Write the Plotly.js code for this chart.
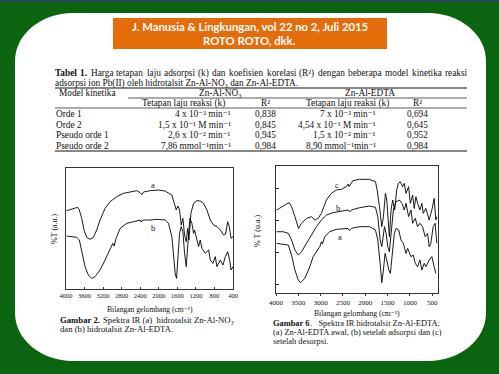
<!DOCTYPE html>
<html><head><meta charset="utf-8">
<script src="https://cdn.plot.ly/plotly-3.0.1.min.js"></script>
<style>html,body{margin:0;padding:0;background:#0a6410;}#plot{width:499px;height:374px;}</style>
</head><body><div id="plot"></div>
<script>
// ---------- DATA ----------
const headerTitle1 = "J. Manusia & Lingkungan, vol 22 no 2, Juli 2015";
const headerTitle2 = "ROTO ROTO, dkk.";

const captionBold = ["Tabel", "1."];
const captionWords = ["Harga", "tetapan", "laju", "adsorpsi", "(k)", "dan", "koefisien", "korelasi", "(R²)", "dengan", "beberapa", "model", "kinetika", "reaksi"];
const captionLine2 = "adsorpsi ion Pb(II) oleh hidrotalsit Zn-Al-NO₃ dan Zn-Al-EDTA.";

const models = ["Orde 1", "Orde 2", "Pseudo orde 1", "Pseudo orde 2"];
const kNO3 = ["4 x 10⁻³ min⁻¹", "1,5 x 10⁻¹ M min⁻¹", "2,6 x 10⁻² min⁻¹", "7,86 mmol⁻¹min⁻¹"];
const r2NO3 = ["0,838", "0,845", "0,945", "0,984"];
const kEDTA = ["7 x 10⁻³ min⁻¹", "4,54 x 10⁻¹ M min⁻¹", "1,5 x 10⁻² min⁻¹", "8,90 mmol⁻¹min⁻¹"];
const r2EDTA = ["0,694", "0,645", "0,952", "0,984"];

// Gambar 2 spectra (wavenumber cm-1, %T a.u.)
const g2_wn_a = [3986,3878,3784,3748,3712,3662,3611,3554,3482,3410,3338,3266,3158,3050,2906,2762,2618,2474,2402,2366,2330,2186,2006,1862,1718,1667,1624,1588,1552,1516,1480,1444,1408,1379,1350,1307,1250,1178,1106,1034,962,890,818,746,674,602,558,515,479,443,400];
const g2_t_a  = [62,63,64.2,64.5,62.5,56.2,47.5,42,40.5,42,47.5,55,63.7,68.7,72.5,75,76,77,75.5,74,76,77,77.5,76.7,73.7,67.5,62.5,65.5,62.5,51.2,56.2,43.7,38.7,48.7,40,60,67.5,69.5,69.2,67.5,62.5,55,51.2,50,47.5,43.7,44.5,53.7,50,41.2,42.5];
const g2_wn_b = [3986,3842,3770,3712,3662,3590,3518,3446,3374,3266,3158,3050,3014,2992,2963,2920,2834,2690,2546,2402,2380,2344,2186,2042,1862,1790,1718,1682,1646,1617,1588,1552,1516,1480,1444,1408,1372,1329,1286,1250,1228,1192,1142,1106,1070,998,926,890,832,782,746,674,616,566,515,472,443,400];
const g2_t_b  = [43,42.5,42,40,32.5,20,13.7,11.2,12.5,17.5,25,32.5,36.2,37.5,35.5,41.2,48.7,52.5,53.7,55,53.5,55,55,55.5,55,52.5,42.5,27.5,15,11.2,25,45,50,46.2,30,20,37.5,56.2,52.5,45,47.5,41.2,35,40,33.7,30,32.5,25,22.5,27.5,20,25,21.2,27.5,31.2,25,17.5,20];

// Gambar 6 spectra
const g6_wn_c = [3985,3874,3762,3703,3651,3576,3495,3428,3316,3205,3131,3056,2982,2871,2759,2648,2536,2425,2380,2365,2276,2128,1905,1771,1734,1682,1630,1593,1548,1518,1489,1459,1422,1385,1340,1296,1258,1214,1162,1125,1087,1028,991,939,902,865,827,775,731,701,642,567,508,456,419,396];
const g6_t_c  = [62.5,65,67,68,65,57.5,48.7,52.5,56.2,57.5,55,56.2,60,70,75,77.5,78,80,82,80,84.5,85.5,85.5,83.7,77.5,65,50,57.5,75,70,55,42.5,62.5,70,62.5,77.5,82.5,83.7,80,82.5,75,80,67.5,73.7,63.7,72.5,67.5,62.5,67.5,60,63.7,55,62.5,71.2,55,57.5];
const g6_wn_b = [3985,3837,3725,3651,3576,3502,3428,3316,3205,3094,2982,2871,2722,2573,2388,2350,2313,2128,1905,1771,1719,1667,1630,1608,1570,1533,1496,1459,1422,1370,1310,1236,1177,1125,1087,1028,976,939,879,827,775,716,657,604,567,530,478,434,396];
const g6_t_b  = [46.2,46.2,45,40,32.5,28.7,31.2,37.5,43.7,50,55,58.7,60.5,61.2,62.5,61,62.5,64.2,65.5,64.5,57.5,40,35,40,50,45,35,31.2,45,62.5,68.7,70,67.5,62.5,67.5,57.5,62.5,52.5,56.2,50,52.5,50,42.5,45,35,37.5,50,52.5,37.5];
const g6_wn_a = [3985,3837,3725,3651,3576,3502,3450,3354,3242,3168,3094,3019,2982,2960,2908,2796,2648,2499,2388,2350,2313,2128,1905,1771,1719,1667,1630,1593,1556,1518,1474,1437,1400,1348,1310,1251,1199,1147,1087,1050,976,924,879,827,775,731,679,642,567,508,456,419];
const g6_t_a  = [37.5,37,36.2,28.7,17.5,10,8,11.2,20,27.5,31.2,35,38.7,37,42.5,46.2,48,48.7,48.7,47,48.7,50,50,47.5,40,22.5,8,17.5,30,25,17.5,15,30,45,48.7,47.5,40,37.5,30,33.7,27.5,28.7,22.5,20,25,17.5,22.5,20,25,27.5,20,15];

const xTitle = "Bilangan gelombang (cm⁻¹)";

// ---------- LAYOUT HELPERS (pixel -> paper) ----------
const W = 499, H = 374;
const px = x => x / W, py = y => 1 - y / H;
const P = (x, y) => px(x) + ',' + py(y);
const serif = "Liberation Serif, Times New Roman, DejaVu Serif, serif";
const ink = "#111";
const TS = 9.3; // table font size
const ctx = document.createElement('canvas').getContext('2d');
function measure(t, size, bold) {
  ctx.font = (bold ? 'bold ' : '') + size + 'px "Liberation Serif"';
  return ctx.measureText(t).width;
}

function roundRect(L, T, R, B, rx, ry) {
  const k = 0.5523;
  return 'M' + P(L + rx, T) + ' L' + P(R - rx, T) +
    ' C' + P(R - rx + rx * k, T) + ' ' + P(R, T + ry - ry * k) + ' ' + P(R, T + ry) +
    ' L' + P(R, B - ry) +
    ' C' + P(R, B - ry + ry * k) + ' ' + P(R - rx + rx * k, B) + ' ' + P(R - rx, B) +
    ' L' + P(L + rx, B) +
    ' C' + P(L + rx - rx * k, B) + ' ' + P(L, B - ry + ry * k) + ' ' + P(L, B - ry) +
    ' L' + P(L, T + ry) +
    ' C' + P(L, T + ry - ry * k) + ' ' + P(L + rx - rx * k, T) + ' ' + P(L + rx, T) + ' Z';
}

const shapes = [
  {type: 'rect', xref: 'paper', yref: 'paper', x0: 0, x1: 1, y0: py(2), y1: 1, fillcolor: '#2d4a5c', line: {width: 0}, layer: 'below'},
  {type: 'path', xref: 'paper', yref: 'paper', path: roundRect(15, 13, 486, 361, 58, 48), fillcolor: '#ffffff', line: {width: 0}, layer: 'below'},
  {type: 'rect', xref: 'paper', yref: 'paper', x0: px(113), x1: px(387), y0: py(49), y1: py(18), fillcolor: '#e46c0a', line: {width: 0}, layer: 'below'},
];
function hline(y, x0, x1, w) {
  shapes.push({type: 'line', xref: 'paper', yref: 'paper', x0: px(x0), x1: px(x1), y0: py(y), y1: py(y), line: {color: ink, width: w}});
}
hline(88, 55, 467, 1);
hline(98, 128, 467, 0.7);
hline(108, 55, 467, 0.7);
hline(151, 55, 467, 1);

const annotations = [];
function txt(text, x, y, size, anchor, opts, bold) {
  annotations.push(Object.assign({
    text: text, x: px(x), y: py(y), xref: 'paper', yref: 'paper', showarrow: false,
    xanchor: anchor || 'left', yanchor: 'middle', borderpad: 0, borderwidth: 0,
    font: {family: serif, size: size, color: ink, weight: bold ? 700 : 400}
  }, opts || {}));
}
// header box
const hfont = {family: 'Lato, Open Sans, sans-serif', size: 11.3, color: '#fff', weight: 700};
txt(headerTitle1, 250, 27, 11.3, 'center', {font: hfont});
txt(headerTitle2, 250, 40.5, 11.3, 'center', {font: hfont});

// table caption, line 1 justified across the table width
(function () {
  const words = captionBold.map(w => [w, true]).concat(captionWords.map(w => [w, false]));
  const widths = words.map(w => measure(w[0], TS, w[1]));
  const L = 55, R = 467;
  const total = widths.reduce((a, b) => a + b, 0);
  const gap = Math.max(1.5, (R - L - total) / (words.length - 1));
  let x = L;
  words.forEach((w, i) => { txt(w[0], x, 73, TS, 'left', null, w[1]); x += widths[i] + gap; });
})();
txt(captionLine2, 55, 83, TS);
// table header
txt('Model kinetika', 87, 93, TS, 'center');
txt('Zn-Al-NO₃', 220, 93, TS, 'center');
txt('Zn-Al-EDTA', 370, 93, TS, 'center');
txt('Tetapan laju reaksi (k)', 183, 103, TS, 'center');
txt('R²', 265, 103, TS, 'center');
txt('Tetapan laju reaksi (k)', 347, 103, TS, 'center');
txt('R²', 417, 103, TS, 'center');
const rowY = [114, 124.5, 135, 145.5];
models.forEach((m, i) => {
  txt(m, 56, rowY[i], TS, 'left');
  txt(kNO3[i], 231, rowY[i], TS, 'right');
  txt(r2NO3[i], 265, rowY[i], TS, 'center');
  txt(kEDTA[i], 376, rowY[i], TS, 'right');
  txt(r2EDTA[i], 417, rowY[i], TS, 'center');
});
// figure captions (bold label + plain remainder)
function caption(boldPart, rest, x, y, size, gap) {
  txt(boldPart, x, y, size, 'left', null, true);
  txt(rest, x + measure(boldPart, size, true) + gap, y, size, 'left');
}
txt(xTitle, 150, 309.5, 7.6, 'center');
caption('Gambar 2.', 'Spektra IR (a)  hidrotalsit Zn-Al-NO₃', 60, 320, 8.7, 2.6);
txt('dan (b) hidrotalsit Zn-Al-EDTA.', 60, 328.5, 8.7);
txt(xTitle, 357, 313, 7.6, 'center');
caption('Gambar 6', '.   Spektra IR hidrotalsit Zn-Al-EDTA;', 273, 323, 8.4, 0);
txt('(a) Zn-Al-EDTA awal, (b) setelah adsorpsi dan (c)', 273, 332, 8.4);
txt('setelah desorpsi.', 273, 341, 8.4);
// y titles
txt('%T (a.u.)', 54, 229, 8, 'center', {textangle: -90});
txt('% T (u.a.)', 257, 231, 8, 'center', {textangle: -90});
// curve labels (data coords)
function clab(t, xr, yr, x, y) {
  annotations.push({text: t, xref: xr, yref: yr, x: x, y: y, showarrow: false, font: {family: serif, size: 8.5, color: ink}});
}
clab('a', 'x', 'y', 2128, 81);
clab('b', 'x', 'y', 2114, 49);
clab('c', 'x2', 'y2', 2633, 81.5);
clab('b', 'x2', 'y2', 2611, 64);
clab('a', 'x2', 'y2', 2573, 42);

const line = {color: '#000', width: 0.9};
const traces = [
  {x: g2_wn_a, y: g2_t_a, xaxis: 'x', yaxis: 'y', mode: 'lines', line: line, name: 'a'},
  {x: g2_wn_b, y: g2_t_b, xaxis: 'x', yaxis: 'y', mode: 'lines', line: line, name: 'b'},
  {x: g6_wn_c, y: g6_t_c, xaxis: 'x2', yaxis: 'y2', mode: 'lines', line: line, name: 'c'},
  {x: g6_wn_b, y: g6_t_b, xaxis: 'x2', yaxis: 'y2', mode: 'lines', line: line, name: 'b'},
  {x: g6_wn_a, y: g6_t_a, xaxis: 'x2', yaxis: 'y2', mode: 'lines', line: line, name: 'a'},
];

const axBase = {showline: true, mirror: true, linecolor: '#000', linewidth: 0.8, showgrid: false, zeroline: false,
  tickfont: {family: serif, size: 6.5, color: ink}, ticklen: 2.5, tickcolor: '#000', tickwidth: 0.8, fixedrange: true};

const layout = {
  width: W, height: H, margin: {l: 0, r: 0, t: 0, b: 0},
  paper_bgcolor: '#0a6410', plot_bgcolor: 'rgba(0,0,0,0)', showlegend: false,
  shapes: shapes, annotations: annotations,
  xaxis: Object.assign({}, axBase, {domain: [px(66), px(233)], range: [4000, 400], tick0: 400, dtick: 400, ticks: 'inside', anchor: 'y'}),
  yaxis: Object.assign({}, axBase, {domain: [py(289), py(168)], range: [3.25, 94], showticklabels: false, ticks: '', anchor: 'x'}),
  xaxis2: Object.assign({}, axBase, {domain: [px(276), px(438)], range: [4000, 370], tick0: 500, dtick: 500, ticks: 'outside', anchor: 'y2', tickfont: {family: serif, size: 7, color: ink}}),
  yaxis2: Object.assign({}, axBase, {domain: [py(293), py(166)], range: [0.25, 95.5], showticklabels: false, ticks: 'inside', tick0: 7, dtick: 24, anchor: 'x2'}),
};
Plotly.newPlot('plot', traces, layout, {staticPlot: true, displayModeBar: false});
</script></body></html>
